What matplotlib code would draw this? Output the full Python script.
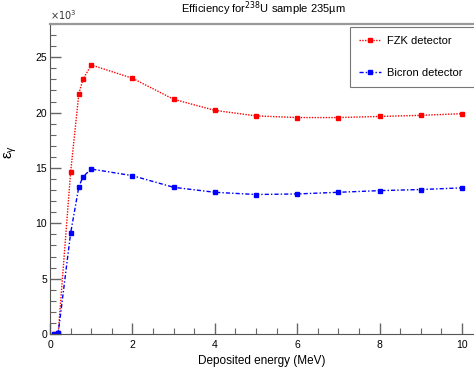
import matplotlib
matplotlib.use("Agg")
import matplotlib.pyplot as plt
from matplotlib.ticker import MultipleLocator

plt.rcParams["font.family"] = ["Liberation Sans", "DejaVu Sans"]

# Deposited energy (MeV) and efficiencies (x10^3)
energy = [0.1, 0.2, 0.5, 0.7, 0.8, 1, 2, 3, 4, 5, 6, 7, 8, 9, 10]
fzk_eff = [0.0, 0.1, 14.6, 21.7, 23.0, 24.3, 23.1, 21.2, 20.2, 19.7, 19.55, 19.55, 19.65, 19.75, 19.9]
bicron_eff = [0.0, 0.1, 9.1, 13.3, 14.2, 14.9, 14.3, 13.25, 12.8, 12.6, 12.65, 12.8, 12.95, 13.05, 13.2]

W, H = 474, 368
fig = plt.figure(figsize=(W / 100, H / 100), dpi=100)
ax = fig.add_axes([50 / W, (H - 334) / H, (W - 50) / W, 310 / H])

ax.plot(energy, fzk_eff, color="#ff0000", linestyle=(0, (1, 1)), linewidth=1,
        marker="s", markersize=3.2, label="FZK detector")
ax.plot(energy, bicron_eff, color="#0000ff", linestyle=(0, (3, 1.5, 1, 1.5)), linewidth=1,
        marker="s", markersize=3.2, label="Bicron detector")

ax.set_xlim(0, 10.29)
ax.set_ylim(0, 28)

# ROOT-like frame: ticks inside, no right spine
ax.spines["right"].set_visible(False)
ax.spines["top"].set_color("#999999")
ax.spines["top"].set_linewidth(1.6)
ax.spines["left"].set_color("#555555")
ax.spines["bottom"].set_color("#555555")
ax.xaxis.set_major_locator(MultipleLocator(2))
ax.xaxis.set_minor_locator(MultipleLocator(0.5))
ax.yaxis.set_major_locator(MultipleLocator(5))
ax.yaxis.set_minor_locator(MultipleLocator(1))
ax.tick_params(which="both", direction="in", color="#666666", labelsize=7.5,
               top=False, right=False)
ax.tick_params(which="major", length=8, width=1)
ax.tick_params(which="minor", length=4, width=0.8)
ax.tick_params(axis="x", pad=4)
ax.tick_params(axis="y", pad=2)

ax.set_xlabel("Deposited energy (MeV)", fontsize=8.5, labelpad=4)
ax.set_ylabel(r"$\mathregular{ε_γ}$", fontsize=11)
ax.yaxis.set_label_coords(-0.072, 0.587)
ax.text(0.0, 1.005, r"$\times10^{3}$", transform=ax.transAxes, fontsize=7,
        color="#333333", va="bottom", ha="left")

fig.text(0.555, 0.975, r"Efficiency for$^{238}$U sample 235µm", fontsize=8,
         ha="center", va="center")

# legend box: x 350..beyond edge, y 27..87 in pixels
leg = ax.legend(loc="upper left",
                bbox_to_anchor=(300 / 424, 1 - 63 / 310, 140 / 424, 60 / 310),
                mode="expand", fontsize=8, frameon=True, fancybox=False,
                handlelength=2.0, handletextpad=0.5, labelspacing=2.0,
                borderpad=0.8, borderaxespad=0)
leg.get_frame().set_edgecolor("#555555")
leg.get_frame().set_linewidth(0.8)

fig.savefig("out.png", dpi=100)
